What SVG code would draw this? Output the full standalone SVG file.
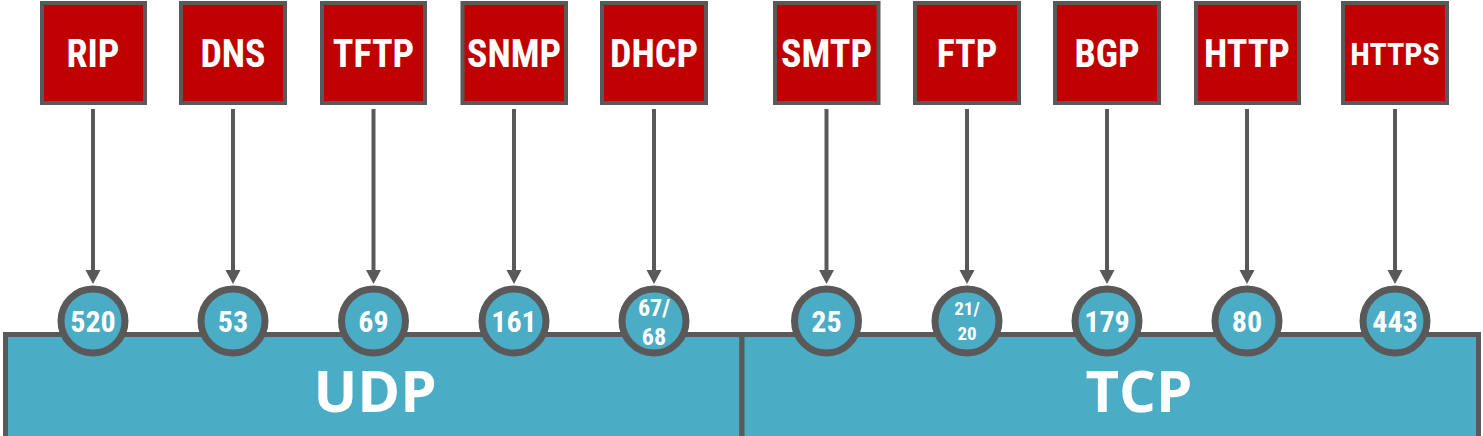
<svg xmlns="http://www.w3.org/2000/svg" width="1483" height="436" viewBox="0 0 1483 436">
<style>
.box{fill:#C00000;stroke:#595959;stroke-width:4}
.bt{fill:#fff;font-family:"Liberation Sans Narrow","Roboto Condensed","Liberation Sans",sans-serif;font-weight:bold;text-anchor:middle}
.port{fill:#4BACC6;stroke:#595959;stroke-width:7}
.base{fill:#4BACC6;stroke:#595959;stroke-width:5}
.big{fill:#fff;font-family:"Open Sans","Liberation Sans",sans-serif;font-weight:bold;font-size:58px;text-anchor:middle}
.conn{stroke:#595959;stroke-width:4;fill:none}
.head{fill:#595959}
</style>
<g id="base">
<rect class="base" x="5.5" y="334.5" width="736.5" height="110"/>
<rect class="base" x="742" y="334.5" width="736.5" height="110"/>
<text class="big" x="375" y="412">UDP</text>
<text class="big" x="1139" y="412">TCP</text>
</g>
<g id="connectors">
<line class="conn" x1="93" y1="109" x2="93" y2="270"/>
<path class="head" d="M85.5,270 L100.5,270 L93,284 Z"/>
<line class="conn" x1="233" y1="109" x2="233" y2="270"/>
<path class="head" d="M225.5,270 L240.5,270 L233,284 Z"/>
<line class="conn" x1="373.5" y1="109" x2="373.5" y2="270"/>
<path class="head" d="M366,270 L381,270 L373.5,284 Z"/>
<line class="conn" x1="514" y1="109" x2="514" y2="270"/>
<path class="head" d="M506.5,270 L521.5,270 L514,284 Z"/>
<line class="conn" x1="654" y1="109" x2="654" y2="270"/>
<path class="head" d="M646.5,270 L661.5,270 L654,284 Z"/>
<line class="conn" x1="826.5" y1="109" x2="826.5" y2="270"/>
<path class="head" d="M819,270 L834,270 L826.5,284 Z"/>
<line class="conn" x1="967" y1="109" x2="967" y2="270"/>
<path class="head" d="M959.5,270 L974.5,270 L967,284 Z"/>
<line class="conn" x1="1107" y1="109" x2="1107" y2="270"/>
<path class="head" d="M1099.5,270 L1114.5,270 L1107,284 Z"/>
<line class="conn" x1="1247" y1="109" x2="1247" y2="270"/>
<path class="head" d="M1239.5,270 L1254.5,270 L1247,284 Z"/>
<line class="conn" x1="1395" y1="109" x2="1395" y2="270"/>
<path class="head" d="M1387.5,270 L1402.5,270 L1395,284 Z"/>
</g>
<g id="rip"><rect class="box" x="42" y="3" width="103" height="100"/><text class="bt" x="93" y="67" font-size="38">RIP</text></g>
<g id="dns"><rect class="box" x="181" y="3" width="104" height="100"/><text class="bt" x="233" y="67" font-size="38">DNS</text></g>
<g id="tftp"><rect class="box" x="322" y="3" width="103" height="100"/><text class="bt" x="373.5" y="67" font-size="38">TFTP</text></g>
<g id="snmp"><rect class="box" x="462.5" y="3" width="103.5" height="100"/><text class="bt" x="514" y="67" font-size="38">SNMP</text></g>
<g id="dhcp"><rect class="box" x="602" y="3" width="104" height="100"/><text class="bt" x="654" y="67" font-size="38">DHCP</text></g>
<g id="smtp"><rect class="box" x="775" y="3" width="103.5" height="100"/><text class="bt" x="826.5" y="67" font-size="38">SMTP</text></g>
<g id="ftp"><rect class="box" x="915" y="3" width="104" height="100"/><text class="bt" x="967" y="67" font-size="38">FTP</text></g>
<g id="bgp"><rect class="box" x="1055" y="3" width="104" height="100"/><text class="bt" x="1107" y="67" font-size="38">BGP</text></g>
<g id="http"><rect class="box" x="1196" y="3" width="103" height="100"/><text class="bt" x="1247" y="67" font-size="38">HTTP</text></g>
<g id="https"><rect class="box" x="1343" y="3" width="104" height="100"/><text class="bt" x="1395" y="65" font-size="32">HTTPS</text></g>
<g id="p520"><circle class="port" cx="93" cy="321" r="32"/><text class="bt" x="93" y="332" font-size="30">520</text></g>
<g id="p53"><circle class="port" cx="233" cy="321" r="32"/><text class="bt" x="233" y="332" font-size="30">53</text></g>
<g id="p69"><circle class="port" cx="373.5" cy="321" r="32"/><text class="bt" x="373.5" y="332" font-size="30">69</text></g>
<g id="p161"><circle class="port" cx="514" cy="321" r="32"/><text class="bt" x="514" y="332" font-size="30">161</text></g>
<g id="p6768"><circle class="port" cx="654" cy="321" r="32"/><text class="bt" x="654" y="316" font-size="24">67/</text><text class="bt" x="654" y="345" font-size="24">68</text></g>
<g id="p25"><circle class="port" cx="826.5" cy="321" r="32"/><text class="bt" x="826.5" y="332" font-size="30">25</text></g>
<g id="p2120"><circle class="port" cx="967" cy="321" r="32"/><text class="bt" x="967" y="315" font-size="19">21/</text><text class="bt" x="967" y="340" font-size="19">20</text></g>
<g id="p179"><circle class="port" cx="1107" cy="321" r="32"/><text class="bt" x="1107" y="332" font-size="30">179</text></g>
<g id="p80"><circle class="port" cx="1247" cy="321" r="32"/><text class="bt" x="1247" y="332" font-size="30">80</text></g>
<g id="p443"><circle class="port" cx="1395" cy="321" r="32"/><text class="bt" x="1395" y="332" font-size="30">443</text></g>
</svg>
